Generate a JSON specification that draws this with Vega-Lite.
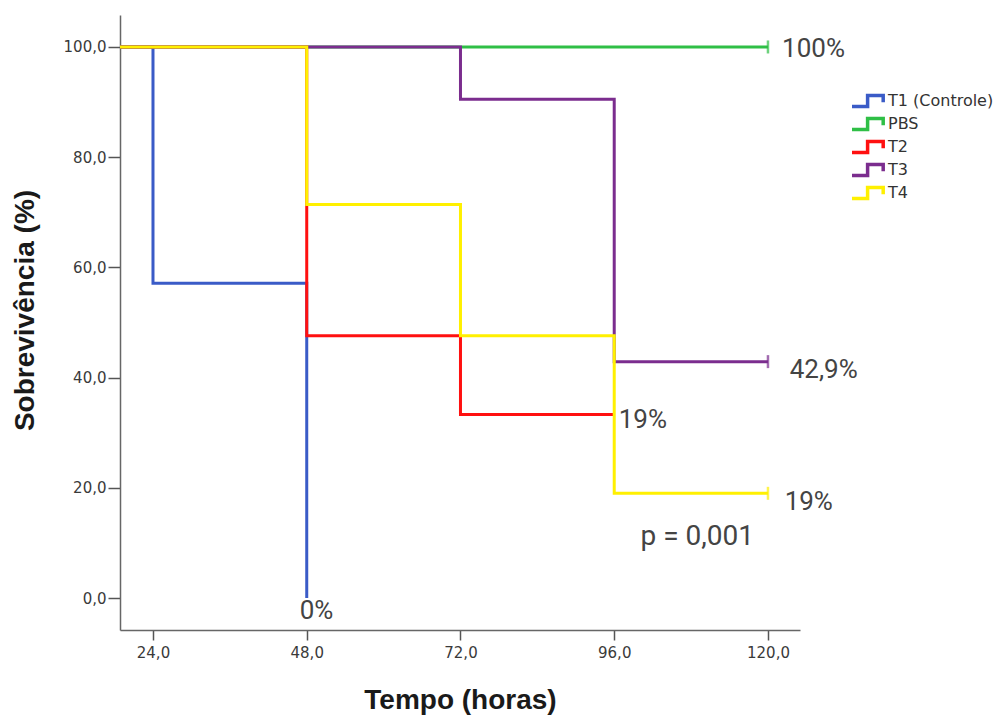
{
  "$schema": "https://vega.github.io/schema/vega-lite/v6.json",
  "autosize": "none",
  "width": 680,
  "height": 615,
  "padding": {"left": 120, "top": 15, "right": 205, "bottom": 85},
  "background": "white",
  "config": {"view": {"stroke": null}},
  "datasets": {
    "curves": [
      {"grupo": "T1 (Controle)", "tempo": 18.85, "sobrevivencia": 100},
      {"grupo": "T1 (Controle)", "tempo": 24, "sobrevivencia": 57.1},
      {"grupo": "T1 (Controle)", "tempo": 48, "sobrevivencia": 0},
      {"grupo": "PBS", "tempo": 18.85, "sobrevivencia": 100},
      {"grupo": "PBS", "tempo": 120, "sobrevivencia": 100},
      {"grupo": "T2", "tempo": 18.85, "sobrevivencia": 100},
      {"grupo": "T2", "tempo": 48, "sobrevivencia": 47.6},
      {"grupo": "T2", "tempo": 72, "sobrevivencia": 33.3},
      {"grupo": "T2", "tempo": 96, "sobrevivencia": 33.3},
      {"grupo": "T3", "tempo": 18.85, "sobrevivencia": 100},
      {"grupo": "T3", "tempo": 72, "sobrevivencia": 90.5},
      {"grupo": "T3", "tempo": 96, "sobrevivencia": 42.9},
      {"grupo": "T3", "tempo": 120, "sobrevivencia": 42.9},
      {"grupo": "T4", "tempo": 18.85, "sobrevivencia": 100},
      {"grupo": "T4", "tempo": 48, "sobrevivencia": 71.4},
      {"grupo": "T4", "tempo": 72, "sobrevivencia": 47.6},
      {"grupo": "T4", "tempo": 96, "sobrevivencia": 19.0},
      {"grupo": "T4", "tempo": 120, "sobrevivencia": 19.0}
    ],
    "censored": [
      {"grupo": "PBS", "tempo": 120, "sobrevivencia": 100},
      {"grupo": "T3", "tempo": 120, "sobrevivencia": 42.9},
      {"grupo": "T4", "tempo": 120, "sobrevivencia": 19.0}
    ],
    "notes": [
      {"tempo": 122.2, "sobrevivencia": 99.6, "rotulo": "100%"},
      {"tempo": 123.4, "sobrevivencia": 41.4, "rotulo": "42,9%"},
      {"tempo": 96.7, "sobrevivencia": 32.3, "rotulo": "19%"},
      {"tempo": 122.6, "sobrevivencia": 17.4, "rotulo": "19%"},
      {"tempo": 46.9, "sobrevivencia": -2.4, "rotulo": "0%"}
    ],
    "pvalue": [
      {"tempo": 100.1, "sobrevivencia": 11.1, "rotulo": "p = 0,001"}
    ]
  },
  "encoding": {
    "x": {
      "field": "tempo",
      "type": "quantitative",
      "scale": {"domain": [18.85, 125], "nice": false, "zero": false},
      "axis": {
        "values": [24, 48, 72, 96, 120],
        "labelExpr": "replace(format(datum.value, '.1f'), '.', ',')",
        "title": "Tempo (horas)",
        "grid": false,
        "domainColor": "#666666",
        "domainWidth": 1.5,
        "tickColor": "#555555",
        "tickWidth": 1.5,
        "tickSize": 10,
        "labelPadding": 5,
        "labelFont": "DejaVu Sans",
        "labelFontSize": 15,
        "labelColor": "#3a3a3a",
        "titleFont": "Liberation Sans",
        "titleFontSize": 28,
        "titleFontWeight": "bold",
        "titleColor": "#1a1a1a",
        "titleBaseline": "alphabetic",
        "titleY": 78
      }
    },
    "y": {
      "field": "sobrevivencia",
      "type": "quantitative",
      "scale": {"domain": [-5.8, 105.8], "nice": false, "zero": false},
      "axis": {
        "values": [0, 20, 40, 60, 80, 100],
        "labelExpr": "replace(format(datum.value, '.1f'), '.', ',')",
        "title": "Sobrevivência (%)",
        "grid": false,
        "domainColor": "#666666",
        "domainWidth": 1.5,
        "tickColor": "#555555",
        "tickWidth": 1.5,
        "tickSize": 12,
        "labelPadding": 2,
        "labelFont": "DejaVu Sans",
        "labelFontSize": 15,
        "labelColor": "#3a3a3a",
        "titleFont": "Liberation Sans",
        "titleFontSize": 28,
        "titleFontWeight": "bold",
        "titleColor": "#1a1a1a",
        "titleAlign": "center",
        "titleBaseline": "middle",
        "titleAngle": -90,
        "titleX": -95,
        "titleY": 295
      }
    }
  },
  "layer": [
    {
      "data": {"name": "curves"},
      "mark": {"type": "line", "interpolate": "step-after", "strokeWidth": 3},
      "encoding": {
        "color": {
          "field": "grupo",
          "type": "nominal",
          "scale": {
            "domain": ["T1 (Controle)", "PBS", "T2", "T3", "T4"],
            "range": ["#3a5bc7", "#2fbf46", "#ff1010", "#7b2d8e", "#fff000"]
          },
          "legend": {
            "title": null,
            "orient": "none",
            "legendX": 730,
            "legendY": 78,
            "symbolType": "M-1,0.9L1.6,0.9L1.6,-0.9L4.2,-0.9L4.2,0.2",
            "symbolSize": 144,
            "symbolStrokeWidth": 3.5,
            "labelFont": "DejaVu Sans",
            "labelFontSize": 16,
            "labelColor": "#333333",
            "labelOffset": 22,
            "rowPadding": -3,
            "padding": 0,
            "encode": {
              "symbols": {
                "enter": {"fillOpacity": {"value": 0}},
                "update": {"fillOpacity": {"value": 0}}
              }
            }
          }
        }
      }
    },
    {
      "data": {"name": "censored"},
      "mark": {"type": "tick", "orient": "vertical", "size": 13, "thickness": 2.5},
      "encoding": {
        "color": {"field": "grupo", "type": "nominal", "legend": null}
      }
    },
    {
      "data": {"name": "notes"},
      "mark": {"type": "text", "align": "left", "baseline": "middle", "font": "Roboto", "fontSize": 26, "color": "#444444"},
      "encoding": {
        "text": {"field": "rotulo", "type": "nominal"}
      }
    },
    {
      "data": {"name": "pvalue"},
      "mark": {"type": "text", "align": "left", "baseline": "middle", "font": "Roboto", "fontSize": 28, "color": "#444444"},
      "encoding": {
        "text": {"field": "rotulo", "type": "nominal"}
      }
    }
  ]
}
